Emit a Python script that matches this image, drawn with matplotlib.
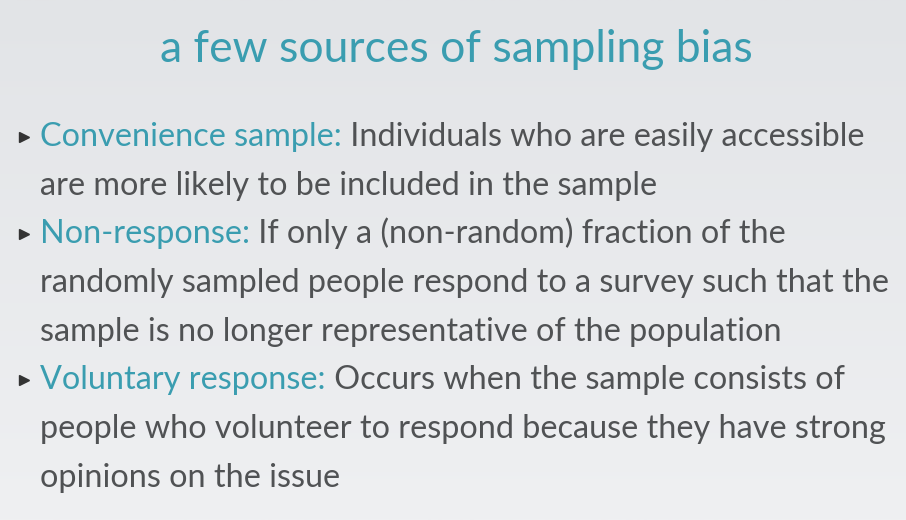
import numpy as np
import matplotlib.pyplot as plt

title = "a few sources of sampling bias"
terms = ["Convenience sample:", "Non-response:", "Voluntary response:"]
first_lines = [" Individuals who are easily accessible",
               " If only a (non-random) fraction of the",
               " Occurs when the sample consists of"]
more_lines = [["are more likely to be included in the sample"],
              ["randomly sampled people respond to a survey such that the",
               "sample is no longer representative of the population"],
              ["people who volunteer to respond because they have strong",
               "opinions on the issue"]]

teal = "#3a9db0"
grey = "#505254"
font = "Lato"
fs = 23.3

fig = plt.figure(figsize=(9.06, 5.2), dpi=100)
ax = fig.add_axes([0, 0, 1, 1])
ax.set_xlim(0, 906)
ax.set_ylim(520, 0)
ax.axis("off")

# soft grey slide background
grad = np.linspace(0, 1, 256).reshape(-1, 1)
ax.imshow(grad, cmap=plt.matplotlib.colors.LinearSegmentedColormap.from_list(
    "bg", ["#e2e4e7", "#eff0f2"]), extent=[0, 906, 520, 0], aspect="auto", zorder=0)

ax.text(456, 62, title, color=teal, fontsize=32, family=font,
        ha="center", va="baseline")

y = 146
step = 48.7
for term, first, rest in zip(terms, first_lines, more_lines):
    ax.plot(24, y - 9, marker=">", color="#333333", markersize=7.5)
    t = ax.text(40, y, term, color=teal, fontsize=fs, family=font,
                va="baseline")
    ax.annotate(first, xy=(1, 0), xycoords=t, va="bottom", ha="left",
                color=grey, fontsize=fs, family=font)
    for line in rest:
        y += step
        ax.text(40, y, line, color=grey, fontsize=fs, family=font,
                va="baseline")
    y += step

fig.savefig("out.png", dpi=100)
